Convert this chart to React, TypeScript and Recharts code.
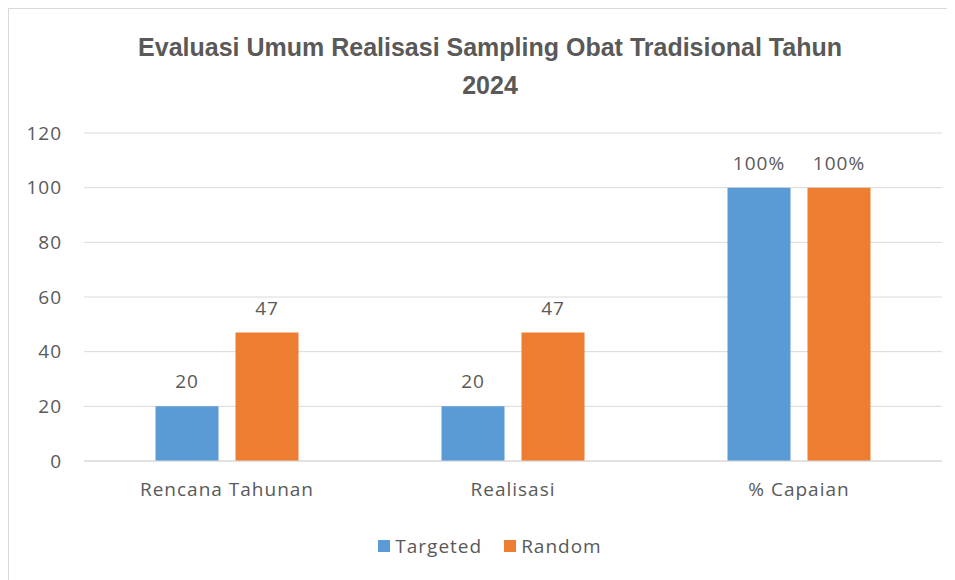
import { Bar, BarChart, CartesianGrid, LabelList, XAxis, YAxis } from "recharts";

const categories = ["Rencana Tahunan", "Realisasi", "% Capaian"];
const targeted = [20, 20, 100];
const random = [47, 47, 100];
const yTicks = [0, 20, 40, 60, 80, 100, 120];

const series = [
  { key: "Targeted", color: "#5B9BD5" },
  { key: "Random", color: "#ED7D31" },
];

const data = categories.map((name, i) => ({
  name,
  Targeted: targeted[i],
  Random: random[i],
}));

const TEXT = "#595959";
const FONT = "'Open Sans', sans-serif";

// the last category shows its values as percentages
const fmt = (idx: number | undefined, v: unknown) =>
  categories[idx ?? 0] === "% Capaian" ? `${v}%` : `${v}`;

const renderLabel = (p: any) => (
  <text
    x={p.x + p.width / 2}
    y={p.y - 18}
    textAnchor="middle"
    fill={TEXT}
    fontSize={19}
    letterSpacing={1}
    fontFamily={FONT}
  >
    {fmt(p.index, p.value)}
  </text>
);

export default function App() {
  return (
    <div
      style={{
        position: "relative",
        width: 946,
        height: 572,
        borderTop: "1px solid #d9d9d9",
        borderLeft: "1px solid #d9d9d9",
        background: "#fff",
        fontFamily: FONT,
      }}
    >
      <div
        style={{
          position: "absolute",
          top: 19,
          left: 0,
          width: 962,
          textAlign: "center",
          fontFamily: "'Liberation Sans', sans-serif",
          fontWeight: 700,
          fontSize: 25,
          lineHeight: "38px",
          color: TEXT,
        }}
      >
        Evaluasi Umum Realisasi Sampling Obat Tradisional Tahun
        <br />
        2024
      </div>
      <BarChart
        width={945}
        height={512}
        data={data}
        margin={{ top: 124, right: 12, left: 0, bottom: 0 }}
        barCategoryGap="25%"
        barGap={17}
      >
        <CartesianGrid vertical={false} stroke="#d9d9d9" />
        <XAxis
          dataKey="name"
          axisLine={{ stroke: "#d9d9d9" }}
          tickLine={false}
          tickMargin={16}
          height={60}
          tick={{ fill: TEXT, fontSize: 19, fontFamily: FONT, letterSpacing: 1 }}
        />
        <YAxis
          width={75}
          domain={[0, 120]}
          ticks={yTicks}
          axisLine={false}
          tickLine={false}
          tickMargin={16}
          tick={{ fill: TEXT, fontSize: 19, fontFamily: FONT, letterSpacing: 1 }}
        />
        {series.map((s) => (
          <Bar key={s.key} dataKey={s.key} fill={s.color} isAnimationActive={false}>
            <LabelList dataKey={s.key} content={renderLabel} />
          </Bar>
        ))}
      </BarChart>
      <div
        style={{
          position: "absolute",
          top: 524,
          left: 0,
          width: 962,
          display: "flex",
          justifyContent: "center",
          gap: 22,
          fontSize: 19,
          letterSpacing: 1,
          color: TEXT,
        }}
      >
        {series.map((s) => (
          <span key={s.key} style={{ display: "flex", alignItems: "center", gap: 5 }}>
            <span style={{ width: 12, height: 12, background: s.color, display: "inline-block" }} />
            {s.key}
          </span>
        ))}
      </div>
    </div>
  );
}
